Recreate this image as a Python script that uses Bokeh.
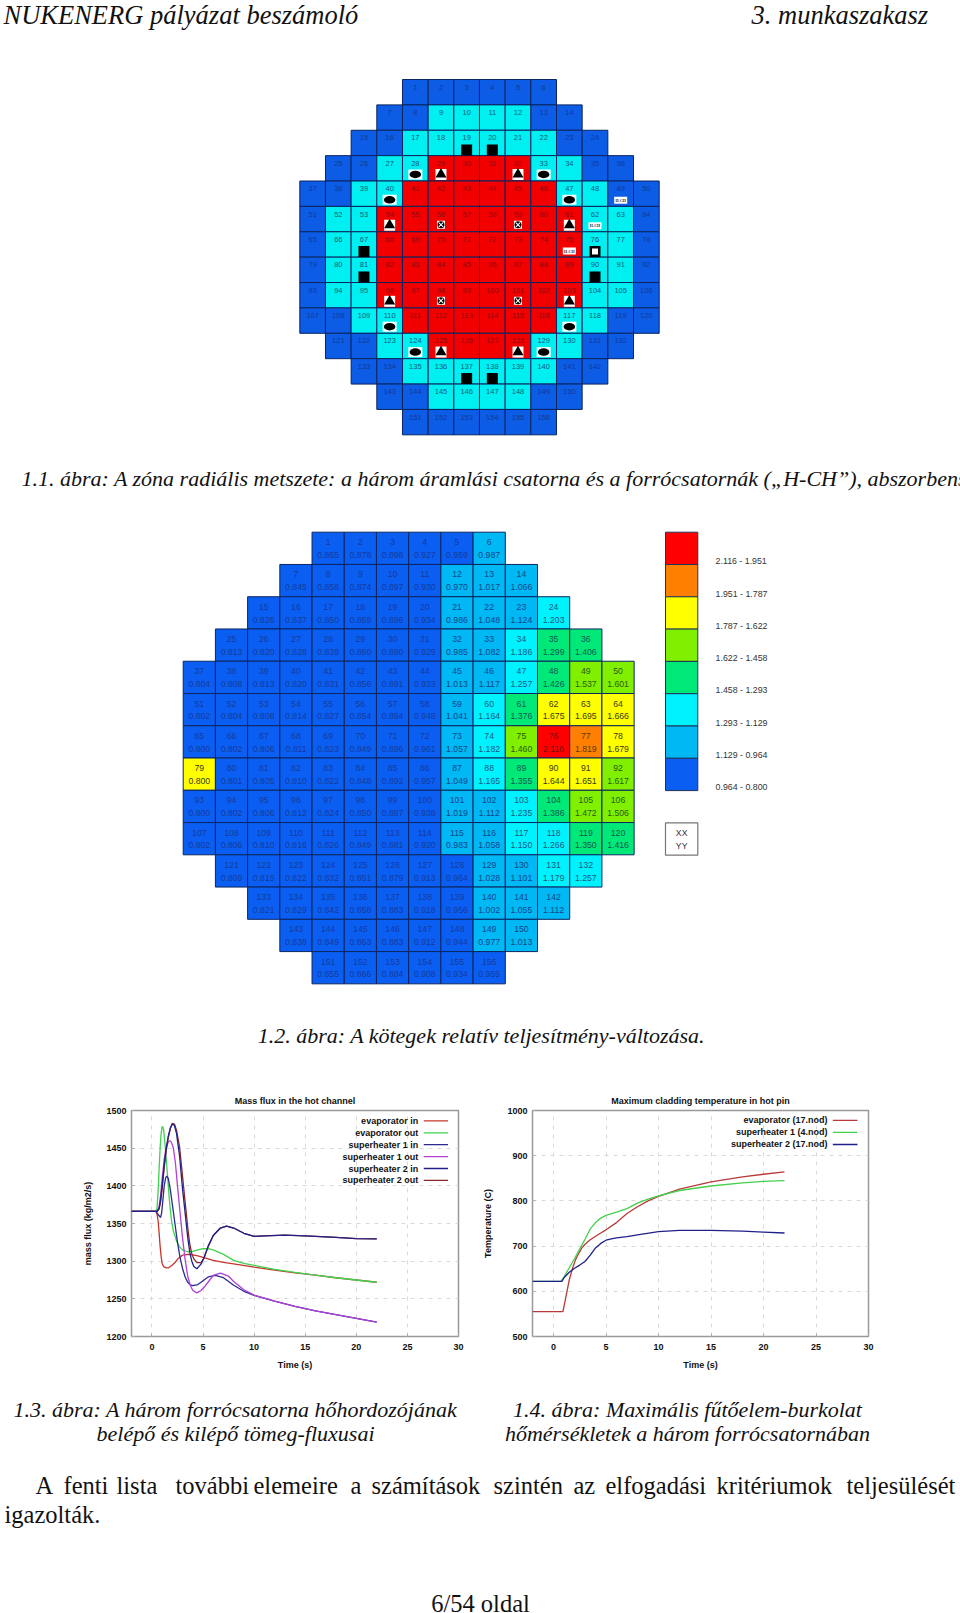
from bokeh.plotting import figure
from bokeh.layouts import column, row
from bokeh.models import Range1d, FixedTicker, ColumnDataSource
from bokeh.core.properties import value
from bokeh.embed import file_html
from bokeh.resources import INLINE

# ---------- page texts ----------
HEADER_LEFT = "NUKENERG pályázat beszámoló"
HEADER_RIGHT = "3. munkaszakasz"
CAPTION_1 = "1.1. ábra: A zóna radiális metszete: a három áramlási csatorna és a forrócsatornák („H-CH”), abszorbensek"
CAPTION_2 = "1.2. ábra: A kötegek relatív teljesítmény-változása."
CAPTION_3 = ["1.3. ábra: A három forrócsatorna hőhordozójának", "belépő és kilépő tömeg-fluxusai"]
CAPTION_4 = ["1.4. ábra: Maximális fűtőelem-burkolat", "hőmérsékletek a három forrócsatornában"]
PARA_WORDS = ["A", "fenti", "lista", "további", "elemeire", "a", "számítások", "szintén", "az", "elfogadási", "kritériumok", "teljesülését"]
PARA_X = [35, 63, 116, 175, 253, 350, 371, 493, 573, 605, 716, 846]
PARA_LAST = "igazolták."
FOOTER = "6/54 oldal"

# ---------- core maps ----------
ROW_LENGTHS = [6, 8, 10, 12, 14, 14, 14, 14, 14, 14, 12, 10, 8, 6]
MAP1_CYAN = [9, 10, 11, 12, 17, 18, 19, 20, 21, 22, 27, 28, 33, 34, 39, 40, 47, 48, 52, 53, 62, 63, 66, 67, 76, 77,
             80, 81, 90, 91, 94, 95, 104, 105, 109, 110, 117, 118, 123, 124, 129, 130, 135, 136, 137, 138, 139, 140,
             145, 146, 147, 148]
MAP1_RED = [29, 30, 31, 32, 41, 42, 43, 44, 45, 46, 54, 55, 56, 57, 58, 59, 60, 61, 68, 69, 70, 71, 72, 73, 74, 75,
            82, 83, 84, 85, 86, 87, 88, 89, 96, 97, 98, 99, 100, 101, 102, 103, 111, 112, 113, 114, 115, 116,
            125, 126, 127, 128]
MAP1_SQUARES = [19, 20, 67, 81, 90, 137, 138]
MAP1_HOLLOW = [76]
MAP1_ELLIPSES = [28, 33, 40, 47, 110, 117, 124, 129]
MAP1_TRIANGLES = [29, 32, 54, 61, 96, 103, 125, 128]
MAP1_CROSSES = [56, 59, 98, 101]
MAP1_HCH = [49, 62, 75]

POWER = [0.865, 0.878, 0.898, 0.927, 0.959, 0.987,
         0.845, 0.858, 0.874, 0.897, 0.930, 0.970, 1.017, 1.066,
         0.826, 0.837, 0.850, 0.869, 0.896, 0.934, 0.986, 1.048, 1.124, 1.203,
         0.813, 0.820, 0.828, 0.839, 0.860, 0.890, 0.929, 0.985, 1.082, 1.186, 1.299, 1.406,
         0.804, 0.808, 0.813, 0.820, 0.831, 0.856, 0.891, 0.933, 1.013, 1.117, 1.257, 1.426, 1.537, 1.601,
         0.802, 0.804, 0.808, 0.814, 0.827, 0.854, 0.894, 0.948, 1.041, 1.164, 1.376, 1.675, 1.695, 1.666,
         0.800, 0.802, 0.806, 0.811, 0.823, 0.849, 0.896, 0.961, 1.057, 1.182, 1.460, 2.116, 1.819, 1.679,
         0.800, 0.801, 0.805, 0.810, 0.822, 0.848, 0.892, 0.957, 1.049, 1.165, 1.355, 1.644, 1.651, 1.617,
         0.800, 0.802, 0.806, 0.812, 0.824, 0.850, 0.887, 0.938, 1.019, 1.112, 1.235, 1.386, 1.472, 1.506,
         0.802, 0.806, 0.810, 0.816, 0.826, 0.849, 0.881, 0.920, 0.983, 1.058, 1.150, 1.266, 1.350, 1.416,
         0.809, 0.815, 0.822, 0.832, 0.851, 0.879, 0.913, 0.964, 1.028, 1.101, 1.179, 1.257,
         0.821, 0.829, 0.842, 0.858, 0.883, 0.918, 0.956, 1.002, 1.055, 1.112,
         0.838, 0.849, 0.863, 0.883, 0.912, 0.944, 0.977, 1.013,
         0.855, 0.866, 0.884, 0.908, 0.934, 0.955]
BIN_EDGES = [1.951, 1.787, 1.622, 1.458, 1.293, 1.129, 0.964]
BIN_COLORS = ["#ff0000", "#ff8000", "#ffff00", "#80f000", "#00e878", "#00f2ff", "#00b8f4", "#0a5ff2"]
BIN_TEXT = ["#7a1010", "#5a3a10", "#3a3a10", "#2a5a10", "#0a5a50", "#1a5a80", "#12468a", "#173a9a"]
BIN_LABELS = ["2.116 - 1.951", "1.951 - 1.787", "1.787 - 1.622", "1.622 - 1.458",
              "1.458 - 1.293", "1.293 - 1.129", "1.129 - 0.964", "0.964 - 0.800"]
BIN_OVERRIDE = {79: 2}

# ---------- transient curves ----------
T1_EVAP_IN = [-2, 0.4, 0.5, 0.6, 0.7, 0.8, 0.9, 1.0, 1.1, 1.2, 1.4, 1.6, 1.8, 2.0, 2.3, 2.6, 3, 3.5, 4, 4.5, 5, 6, 7, 8, 10, 12, 14, 16, 18, 20, 22]
Y1_EVAP_IN = [1366, 1366, 1362, 1354, 1338, 1320, 1306, 1297, 1294, 1292, 1291, 1291, 1293, 1295, 1299, 1304, 1308, 1309, 1308.5, 1307, 1305, 1301, 1298.5, 1296.5, 1292, 1288, 1284.5, 1281.5, 1278, 1275, 1272]
T1_EVAP_OUT = [-2, 0.4, 0.5, 0.6, 0.7, 0.8, 0.9, 1.0, 1.05, 1.15, 1.3, 1.5, 1.7, 1.9, 2.1, 2.4, 2.7, 3, 3.5, 4, 4.5, 5, 5.5, 6, 7, 8, 9, 10, 12, 14, 16, 18, 20, 22]
Y1_EVAP_OUT = [1366, 1366, 1371, 1392, 1422, 1450, 1470, 1478, 1479, 1474, 1452, 1418, 1382, 1355, 1340, 1327, 1319, 1315, 1312.5, 1313, 1315, 1316.5, 1316.5, 1315, 1309, 1301, 1297, 1294.5, 1289, 1285, 1281.5, 1278, 1275, 1272]
T1_SH1_IN = [-2, 0.4, 0.6, 0.85, 0.95, 1.05, 1.2, 1.35, 1.45, 1.6, 1.8, 2, 2.25, 2.5, 2.75, 3, 3.25, 3.5, 3.75, 4, 4.5, 5, 5.5, 6.2, 7, 8, 9, 10, 12, 14, 16, 18, 20, 22]
Y1_SH1_IN = [1366, 1366, 1362, 1358, 1364, 1378, 1400, 1411, 1413, 1410, 1395, 1375, 1350, 1325, 1305, 1290, 1279, 1272, 1268.5, 1267.5, 1269, 1274, 1279, 1281, 1278, 1268, 1260, 1254.5, 1247, 1240, 1234, 1229, 1224, 1219]
T1_SH1_OUT = [-2, 0.5, 0.7, 0.85, 1, 1.2, 1.4, 1.6, 1.75, 1.9, 2.1, 2.3, 2.5, 2.75, 3, 3.25, 3.5, 3.75, 4, 4.4, 4.8, 5.2, 5.6, 6, 6.7, 7.5, 8, 9, 10, 12, 14, 16, 18, 20, 22]
Y1_SH1_OUT = [1366, 1366, 1372, 1388, 1410, 1435, 1452, 1458, 1460, 1458, 1450, 1430, 1400, 1365, 1330, 1302, 1280, 1268, 1261, 1258, 1261, 1267, 1274, 1281, 1284, 1280, 1273, 1262, 1255, 1247, 1240, 1234, 1229, 1224, 1219]
T1_SH2_IN = [-2, 0.5, 0.7, 0.85, 1, 1.2, 1.4, 1.6, 1.8, 2, 2.2, 2.4, 2.7, 3, 3.2, 3.5, 3.7, 3.9, 4.1, 4.4, 4.8, 5.1, 5.5, 6, 6.7, 7.3, 8, 9, 10, 11, 13, 15, 18, 20, 22]
Y1_SH2_IN = [1366, 1366, 1370, 1382, 1400, 1428, 1450, 1466, 1477, 1482, 1480, 1470, 1440, 1395, 1370, 1332, 1312, 1300, 1293, 1290, 1296, 1305, 1320, 1334, 1344, 1346.5, 1344, 1337, 1333, 1333.5, 1334.5, 1333.5, 1331.5, 1330, 1329.5]
T1_SH2_OUT = [-2, 0.5, 0.7, 0.85, 1, 1.2, 1.4, 1.6, 1.8, 2, 2.2, 2.4, 2.7, 3, 3.2, 3.5, 3.7, 3.9, 4.1, 4.4, 4.8, 5.1, 5.5, 6, 6.7, 7.3, 8, 9, 10, 11, 13, 15, 18, 20, 22]
Y1_SH2_OUT = [1366, 1366, 1369, 1379, 1396, 1424, 1447, 1464, 1476, 1483, 1482, 1474, 1452, 1412, 1385, 1345, 1323, 1310, 1303, 1298, 1298, 1304, 1319, 1334, 1344, 1346.5, 1344, 1337, 1333, 1333.5, 1334.5, 1333.5, 1331.5, 1330, 1329.5]
LEGEND_1 = ["evaporator in", "evaporator out", "superheater 1 in", "superheater 1 out", "superheater 2 in", "superheater 2 out"]
COLORS_1 = ["#c8342c", "#3fd24f", "#2a2a90", "#b040d8", "#20208a", "#8a2a2a"]

T2_EVAP = [-2, 0.9, 1.2, 1.5, 1.8, 2.1, 2.4, 2.7, 3, 3.5, 4.5, 5, 6, 7, 8, 9, 10, 12, 15, 18, 20, 22]
Y2_EVAP = [555, 555, 590, 625, 650, 670, 684, 696, 704, 714, 729, 736, 752, 772, 787, 800, 810, 826, 842, 853, 859, 864]
T2_SH1 = [-2, 0.7, 1, 1.5, 2, 2.5, 3, 3.5, 4, 4.5, 5, 6, 7, 8, 9, 10, 12, 15, 18, 20, 22]
Y2_SH1 = [622, 622, 632, 652, 672, 694, 715, 738, 752, 762, 768, 775, 783, 795, 804, 811, 823, 833, 840, 843, 845]
T2_SH2 = [-2, 0.8, 1, 1.5, 2, 2.5, 3, 3.5, 4, 4.5, 5, 5.5, 6, 7, 8, 10, 12, 15, 18, 20, 22]
Y2_SH2 = [622, 622, 630, 642, 651, 658, 666, 680, 696, 706, 713, 716, 718, 721, 725, 732, 735, 735, 733, 731, 729]
LEGEND_2 = ["evaporator (17.nod)", "superheater 1 (4.nod)", "superheater 2 (17.nod)"]
COLORS_2 = ["#b83a3a", "#44d04c", "#20208a"]

SERIF = value("Liberation Serif")
SANS = value("Liberation Sans")
LINE = "#0b2560"


def cells():
    n = 1
    out = {}
    for r, length in enumerate(ROW_LENGTHS):
        first = (14 - length) // 2
        for c in range(length):
            out[n] = (first + c, r)
            n += 1
    return out


CELLS = cells()


def blank(w, h):
    p = figure(width=w, height=h, x_range=Range1d(0, w), y_range=Range1d(h, 0), toolbar_location=None,
               output_backend="svg", min_border=0, outline_line_color=None, background_fill_color="white")
    p.axis.visible = False
    p.grid.visible = False
    return p


def add_map_range(p, name, left, top, cw, ch):
    w, h = p.width, p.height
    p.extra_x_ranges[name] = Range1d(-left / cw, (w - left) / cw)
    p.extra_y_ranges[name] = Range1d((h - top) / ch, -top / ch)
    return dict(x_range_name=name, y_range_name=name)


def serif_text(p, x, y, text, size, italic=True, align="left"):
    p.text([x], [y], text=[text], text_font=SERIF, text_font_size=size,
           text_font_style="italic" if italic else "normal", text_align=align,
           text_baseline="middle", text_color="#111111")


# ---------- top section: header, core maps, captions ----------
H_A = 1060
top = blank(960, H_A)
serif_text(top, 3, 14, HEADER_LEFT, "26.5px")
serif_text(top, 751, 14, HEADER_RIGHT, "26.5px")
serif_text(top, 21, 478, CAPTION_1, "22px")
serif_text(top, 481, 1035, CAPTION_2, "22px", align="center")

# map 1
m1 = add_map_range(top, "m1", 299.3, 79.0, 25.67, 25.38)
nums = sorted(CELLS)
fill1, txt1 = [], []
for n in nums:
    if n in MAP1_RED:
        fill1.append("#f20000"); txt1.append("#8a0c12")
    elif n in MAP1_CYAN:
        fill1.append("#00f0f2"); txt1.append("#125a78")
    else:
        fill1.append("#0c5ce6"); txt1.append("#123a94")
src1 = ColumnDataSource(dict(x=[CELLS[n][0] + 0.5 for n in nums], y=[CELLS[n][1] + 0.5 for n in nums],
                             ty=[CELLS[n][1] + 0.3 for n in nums], label=[str(n) for n in nums],
                             fill=fill1, txt=txt1))
top.rect("x", "y", 1, 1, source=src1, fill_color="fill", line_color=LINE, line_width=1, **m1)
top.text("x", "ty", text="label", source=src1, text_color="txt", text_font=SANS, text_font_size="7.5px",
         text_align="center", text_baseline="middle", **m1)


def pts(numbers, dy=0.74):
    return [CELLS[n][0] + 0.5 for n in numbers], [CELLS[n][1] + dy for n in numbers]


x, y = pts(MAP1_SQUARES, 0.78)
top.scatter(x, y, marker="square", size=11, fill_color="black", line_color="black", line_width=0, **m1)
x, y = pts(MAP1_HOLLOW, 0.78)
top.scatter(x, y, marker="square", size=11, fill_color="black", line_width=0, **m1)
top.scatter(x, y, marker="square", size=6, fill_color="white", line_width=0, **m1)
x, y = pts(MAP1_ELLIPSES)
top.rect(x, y, width=14, height=10, width_units="screen", height_units="screen", fill_color="white", line_width=0, **m1)
top.ellipse(x, y, width=11.5, height=7.5, width_units="screen", height_units="screen", fill_color="black", line_width=0, **m1)
x, y = pts(MAP1_TRIANGLES)
top.rect(x, y, width=11, height=11, width_units="screen", height_units="screen", fill_color="white", line_width=0, **m1)
top.scatter(x, y, marker="triangle", size=11, fill_color="black", line_width=0, **m1)
x, y = pts(MAP1_CROSSES, 0.72)
top.rect(x, y, width=8, height=8, width_units="screen", height_units="screen", fill_color="white", line_width=0, **m1)
top.scatter(x, y, marker="circle", size=7, fill_color="black", line_width=0, **m1)
top.scatter(x, y, marker="x", size=6, line_color="white", line_width=1.1, **m1)
x, y = pts(MAP1_HCH, 0.76)
top.rect(x, y, width=13, height=7, width_units="screen", height_units="screen", fill_color="white", line_width=0, **m1)
top.text(x, y, text=["H-CH"] * len(x), text_font=SERIF, text_font_size="4px", text_font_style="bold", text_color="#222222",
         text_align="center", text_baseline="middle", **m1)


# map 2
def bin_of(n, v):
    if n in BIN_OVERRIDE:
        return BIN_OVERRIDE[n]
    for i, e in enumerate(BIN_EDGES):
        if v > e:
            return i
    return 7


m2 = add_map_range(top, "m2", 182.7, 531.7, 32.21, 32.26)
bins = [bin_of(n, POWER[n - 1]) for n in nums]
src2 = ColumnDataSource(dict(x=[CELLS[n][0] + 0.5 for n in nums], y=[CELLS[n][1] + 0.5 for n in nums],
                             ty1=[CELLS[n][1] + 0.31 for n in nums], ty2=[CELLS[n][1] + 0.71 for n in nums],
                             num=[str(n) for n in nums], val=["%.3f" % POWER[n - 1] for n in nums],
                             fill=[BIN_COLORS[b] for b in bins], txt=[BIN_TEXT[b] for b in bins]))
top.rect("x", "y", 1, 1, source=src2, fill_color="fill", line_color=LINE, line_width=1, **m2)
for yname, tname in (("ty1", "num"), ("ty2", "val")):
    top.text("x", yname, text=tname, source=src2, text_color="txt", text_font=SANS, text_font_size="8.7px",
             text_align="center", text_baseline="middle", **m2)

# colour legend in map-2 cell units
m3 = add_map_range(top, "m3", 665.0, 531.7, 32.3, 32.3)
lg = list(range(len(BIN_COLORS)))
top.rect([0.5] * 8, [i + 0.5 for i in lg], 1, 1, fill_color=BIN_COLORS, line_color="#223355", line_width=1, **m3)
top.text([1.55] * 8, [i + 0.9 for i in lg], text=BIN_LABELS, text_font=SANS, text_font_size="8.8px", text_color="#333333",
         text_align="left", text_baseline="middle", **m3)
top.rect([0.5], [9.5], 1, 1, fill_color="white", line_color="#777777", line_width=1.2, **m3)
top.text([0.5, 0.5], [9.31, 9.72], text=["XX", "YY"], text_font=SANS, text_font_size="8.7px", text_color="#333333",
         text_align="center", text_baseline="middle", **m3)


# ---------- line charts ----------
def chart(width, left, right, top_b, bottom, title, xlabel, ylabel, yr, yticks, curves, colors, legend, lx, lsw, ly0, ldy, yloff):
    p = figure(width=width, height=325, x_range=Range1d(-2, 30), y_range=Range1d(*yr), toolbar_location=None,
               output_backend="svg", min_border_left=left, min_border_right=right, min_border_top=top_b,
               min_border_bottom=bottom, outline_line_color="#999999", outline_line_width=1.5,
               background_fill_color="white", title=title)
    p.title.align = "center"
    p.title.text_font = "Liberation Sans"
    p.title.text_font_size = "9px"
    p.title.text_font_style = "bold"
    p.title.text_color = "#111111"
    p.title.standoff = 10
    p.xaxis.ticker = FixedTicker(ticks=[0, 5, 10, 15, 20, 25, 30])
    p.yaxis.ticker = FixedTicker(ticks=yticks)
    for ax in (p.xaxis[0], p.yaxis[0]):
        ax.axis_line_color = None
        ax.major_tick_in = 3
        ax.major_tick_out = 0
        ax.major_tick_line_color = "#aaaaaa"
        ax.minor_tick_line_color = None
        ax.major_label_text_font = "Liberation Sans"
        ax.major_label_text_font_size = "9px"
        ax.major_label_text_font_style = "bold"
        ax.major_label_text_color = "#111111"
        ax.axis_label_text_font = "Liberation Sans"
        ax.axis_label_text_font_size = "9px"
        ax.axis_label_text_font_style = "bold"
        ax.axis_label_text_color = "#111111"
    p.xaxis.axis_label = xlabel
    p.yaxis.axis_label = ylabel
    p.xaxis.major_label_standoff = 7
    p.yaxis.major_label_standoff = 5
    p.xaxis.axis_label_standoff = 7
    p.yaxis.axis_label_standoff = yloff
    p.grid.grid_line_color = "#d9d9d9"
    p.grid.grid_line_dash = "4 5"
    for (tx, ty), col in zip(curves, colors):
        p.line(tx, ty, line_color=col, line_width=1.3)
    ys = [ly0 + i * ldy for i in range(len(legend))]
    p.text([lx] * len(legend), ys, text=legend, text_font=SANS, text_font_size="9px", text_font_style="bold",
           text_color="#111111", text_align="right", text_baseline="middle")
    p.segment([lsw[0]] * len(legend), ys, [lsw[1]] * len(legend), ys, line_color=colors, line_width=1.3)
    return p


c1 = chart(480, 131, 22, 50, 48, "Mass flux in the hot channel", "Time (s)", "mass flux (kg/m2/s)", (1200, 1500),
           [1200, 1250, 1300, 1350, 1400, 1450, 1500],
           [(T1_EVAP_IN, Y1_EVAP_IN), (T1_EVAP_OUT, Y1_EVAP_OUT), (T1_SH1_IN, Y1_SH1_IN), (T1_SH1_OUT, Y1_SH1_OUT),
            (T1_SH2_OUT, Y1_SH2_OUT), (T1_SH2_IN, Y1_SH2_IN)],
           ["#c8342c", "#3fd24f", "#2a2a90", "#b040d8", "#8a2a2a", "#20208a"], LEGEND_1, 26.05, (26.6, 28.97), 1486.2, -15.8, 10)
# legend keys follow the file's order, so recolour the last two rows
c1.renderers[-1].data_source.data["line_color"] = COLORS_1
c1.renderers[-1].glyph.line_color = "line_color"
c2 = chart(480, 51, 92, 47, 49, "Maximum cladding temperature in hot pin", "Time (s)", "Temperature (C)", (500, 1000),
           [500, 600, 700, 800, 900, 1000],
           [(T2_EVAP, Y2_EVAP), (T2_SH1, Y2_SH1), (T2_SH2, Y2_SH2)], COLORS_2, LEGEND_2, 26.1, (26.6, 28.95), 978, -26.6, 11)

# ---------- bottom section ----------
H_C = 228
OFF = 1385
bot = blank(960, H_C)
serif_text(bot, 235, 1409 - OFF, CAPTION_3[0], "22px", align="center")
serif_text(bot, 235, 1433 - OFF, CAPTION_3[1], "22px", align="center")
serif_text(bot, 687, 1409 - OFF, CAPTION_4[0], "22px", align="center")
serif_text(bot, 687, 1433 - OFF, CAPTION_4[1], "22px", align="center")
for w, x0 in zip(PARA_WORDS, PARA_X):
    serif_text(bot, x0, 1485 - OFF, w, "24.5px", italic=False)
serif_text(bot, 4, 1514 - OFF, PARA_LAST, "24.5px", italic=False)
serif_text(bot, 480, 1603 - OFF, FOOTER, "24.5px", italic=False, align="center")

page = column(top, row(c1, c2, spacing=0), bot, spacing=0,
              styles={"position": "absolute", "left": "0px", "top": "0px"})
open("out.html", "w").write(file_html(page, INLINE))
